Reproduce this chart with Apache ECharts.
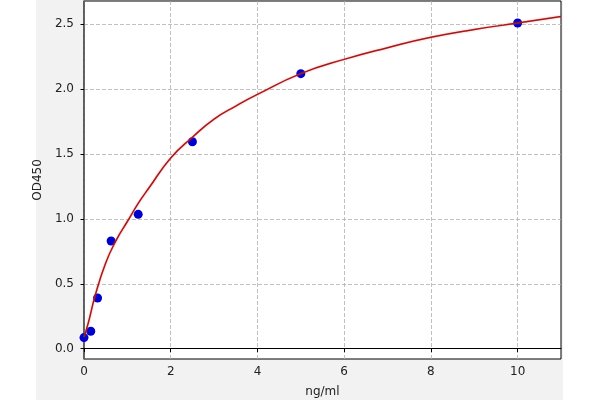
<!DOCTYPE html>
<html>
<head>
<meta charset="utf-8">
<script src="https://cdn.jsdelivr.net/npm/echarts@6/dist/echarts.min.js"></script>
<style>html,body{margin:0;padding:0;background:#fff}#c{width:600px;height:400px}</style>
</head>
<body>
<div id="c"></div>
<script>
const concentrations = [0, 0.156, 0.3125, 0.625, 1.25, 2.5, 5, 10];
const od450 = [0.085, 0.134, 0.39, 0.83, 1.035, 1.595, 2.12, 2.51];
const curveX = [0, 0.1, 0.25, 0.5, 0.75, 1, 1.25, 1.5, 2, 2.5, 3, 3.5, 4, 5, 6, 7, 8, 9, 10, 11];
const curveY = [0.09, 0.2, 0.4, 0.66, 0.84, 0.98, 1.12, 1.24, 1.47, 1.63, 1.77, 1.87, 1.96, 2.12, 2.23, 2.32, 2.40, 2.46, 2.51, 2.56];
const xTicks = [0, 2, 4, 6, 8, 10];
const yTicks = [0, 0.5, 1, 1.5, 2, 2.5];

const chart = echarts.init(document.getElementById('c'), null, {renderer: 'canvas'});
const txt = '#222';
chart.setOption({
  animation: false,
  backgroundColor: {
    type: 'linear', x: 0, y: 0, x2: 1, y2: 0,
    colorStops: [
      {offset: 0, color: '#ffffff'}, {offset: 0.06, color: '#ffffff'},
      {offset: 0.06, color: '#f2f2f2'}, {offset: 0.938, color: '#f2f2f2'},
      {offset: 0.938, color: '#ffffff'}, {offset: 1, color: '#ffffff'}
    ]
  },
  grid: {left: 84, right: 39, top: 1, bottom: 41, outerBoundsMode: 'none', containLabel: false,
    show: true, backgroundColor: '#fff', borderColor: '#000', borderWidth: 1},
  xAxis: {
    type: 'value', min: 0, max: 11,
    name: 'ng/ml', nameLocation: 'middle', nameGap: 27,
    nameTextStyle: {color: txt, fontSize: 12, fontFamily: 'DejaVu Sans'},
    axisLine: {show: true, lineStyle: {color: '#000', width: 1}},
    axisTick: {show: true, length: 3.5, lineStyle: {color: '#000'}, customValues: xTicks},
    axisLabel: {color: txt, fontSize: 12, fontFamily: 'DejaVu Sans', margin: 7, customValues: xTicks},
    splitLine: {show: true, lineStyle: {color: '#b0b0b0', type: [4, 2], width: 0.8}}
  },
  yAxis: {
    type: 'value', min: -0.08, max: 2.68,
    name: 'OD450', nameLocation: 'middle', nameGap: 32, nameRotate: 90,
    nameTextStyle: {color: txt, fontSize: 12, fontFamily: 'DejaVu Sans'},
    axisLine: {show: true, lineStyle: {color: '#555', width: 1.5}},
    axisTick: {show: true, length: 3.5, lineStyle: {color: '#000'}, customValues: yTicks},
    axisLabel: {color: txt, fontSize: 12, fontFamily: 'DejaVu Sans', margin: 10, customValues: yTicks,
      formatter: v => v.toFixed(1)},
    splitLine: {show: true, lineStyle: {color: '#b0b0b0', type: [4, 2], width: 0.8}}
  },
  series: [
    {
      type: 'scatter', z: 2,
      data: concentrations.map((x, i) => [x, od450[i]]),
      symbolSize: 9,
      itemStyle: {color: '#0000cc', opacity: 1}
    },
    {
      type: 'line', z: 3, smooth: 0.5, showSymbol: false,
      data: curveX.map((x, i) => [x, curveY[i]]),
      lineStyle: {color: '#a81818', width: 1.5, shadowColor: 'rgba(230,80,80,0.5)', shadowBlur: 2}
    }
  ]
});
</script>
</body>
</html>
